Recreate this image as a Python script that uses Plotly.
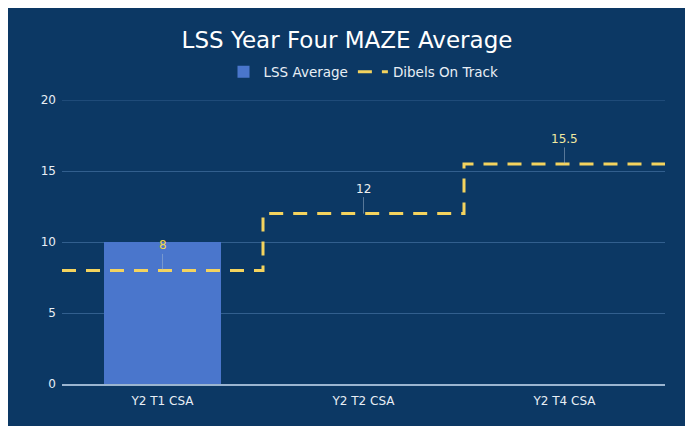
import plotly.graph_objects as go

categories = ["Y2 T1 CSA", "Y2 T2 CSA", "Y2 T4 CSA"]
lss_average = [10, None, None]
dibels_on_track = [8, 12, 15.5]
dibels_labels = ["8", "12", "15.5"]
label_colors = ["#f2d64b", "#f0f0f0", "#f3eaa0"]
y_ticks = [0, 5, 10, 15, 20]

BG = "#0c3864"
FONT = "DejaVu Sans"
GRID = "#325f8e"

xpos = list(range(len(categories)))

fig = go.Figure()
fig.add_trace(go.Bar(
    x=xpos, y=lss_average, name="LSS Average",
    marker=dict(color="#4a76cc", line=dict(width=0)), width=0.58,
))
# step line extended to plot edges
lx = [xpos[0] - 0.5] + xpos + [xpos[-1] + 0.5]
ly = [dibels_on_track[0]] + dibels_on_track + [dibels_on_track[-1]]
fig.add_trace(go.Scatter(
    x=lx, y=ly, name="Dibels On Track", mode="lines",
    line=dict(color="#f4d35e", width=3, dash="14px,10px", shape="hvh"),
))

for x, v, t, c in zip(xpos, dibels_on_track, dibels_labels, label_colors):
    fig.add_annotation(
        x=x, y=v, text=t, showarrow=True, arrowhead=0, arrowwidth=0.8,
        arrowcolor="rgba(170,190,210,0.6)", ax=0, ay=-25,
        font=dict(color=c, size=12, family=FONT),
    )

# top gridline (at the range edge)
fig.add_shape(type="line", xref="paper", yref="y", x0=0, x1=1,
              y0=y_ticks[-1], y1=y_ticks[-1],
              line=dict(color=GRID, width=1), layer="below")

W, H = 678, 420
T, B = 92, 44
PH = H - T - B

fig.update_layout(
    width=W, height=H,
    paper_bgcolor=BG, plot_bgcolor=BG,
    margin=dict(l=54, r=21, t=T, b=B),
    font=dict(family=FONT, color="#e8eef5", size=12),
    title=dict(text="LSS Year Four MAZE Average", x=0.5, xanchor="center",
               y=1 - 32/H, yanchor="middle",
               font=dict(size=23, color="white", family=FONT)),
    legend=dict(orientation="h", x=0.5, xanchor="center", y=1 + 28/PH,
                yanchor="middle", bgcolor="rgba(0,0,0,0)",
                font=dict(size=13.5, color="#e8eef5")),
    showlegend=True,
    bargap=0,
)
fig.update_xaxes(
    range=[-0.5, 2.5], tickvals=xpos, ticktext=categories,
    showgrid=False, zeroline=False, showline=True, linecolor="#9bb5d0",
    linewidth=1.5, ticks="", ticklabelstandoff=5,
    tickfont=dict(size=12, color="#e8eef5"),
)
fig.update_yaxes(
    range=[0, 20], tickvals=y_ticks, showgrid=True, gridcolor=GRID,
    gridwidth=1, zeroline=False, ticks="", ticklabelstandoff=5,
    tickfont=dict(size=12, color="#e8eef5"),
)

fig.write_html("out.html")
